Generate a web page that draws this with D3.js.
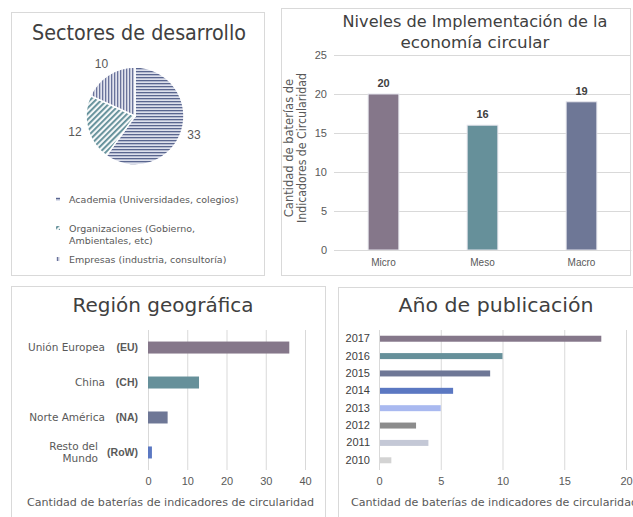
<!DOCTYPE html>
<html>
<head>
<meta charset="utf-8">
<script src="https://cdn.jsdelivr.net/npm/d3@7"></script>
<style>
  body { margin: 0; background: #fff; }
  svg { display: block; }
</style>
</head>
<body>
<div id="chart"></div>
<script>
// data
const sectorNames = ["Academia (Universidades, colegios)", "Organizaciones (Gobierno, Ambientales, etc)", "Empresas (industria, consultoría)"]
const sectorValues = [33, 12, 10]

const levelNames = ["Micro", "Meso", "Macro"]
const levelValues = [20, 16, 19]
const levelTicks = [0, 5, 10, 15, 20, 25]

const regionNames = ["Unión Europea", "China", "Norte América", "Resto del Mundo"]
const regionCodes = ["(EU)", "(CH)", "(NA)", "(RoW)"]
const regionValues = [36, 13, 5, 1]
const regionTicks = [0, 10, 20, 30, 40]

const years = ["2017", "2016", "2015", "2014", "2013", "2012", "2011", "2010"]
const yearValues = [18, 10, 9, 6, 5, 3, 4, 1]
const yearTicks = [0, 5, 10, 15, 20]

const width = 633, height = 517
const titleFont = "'DejaVu Sans', sans-serif"
const axisFont = "'Liberation Sans', Arial, sans-serif"
const grey = "#595959"
const gridColor = "#d9d9d9"
const palette = ["#85778a", "#66909a", "#6e7796"]
const yearColors = ["#85778a", "#66909a", "#6e7796", "#5b78c2", "#a9b9f0", "#8c8c8c", "#c4c8d6", "#d3d3d3"]

const svg = d3.select("#chart").append("svg")
  .attr("width", width)
  .attr("height", height)
  .style("font-family", axisFont)

// patterns for the pie
const defs = svg.append("defs")
const pHor = defs.append("pattern").attr("id", "pHor")
  .attr("patternUnits", "userSpaceOnUse").attr("width", 4).attr("height", 3)
pHor.append("rect").attr("width", 4).attr("height", 3).attr("fill", "#dde0ec")
pHor.append("rect").attr("width", 4).attr("height", 1.3).attr("fill", "#5a668f")

const pDiag = defs.append("pattern").attr("id", "pDiag")
  .attr("patternUnits", "userSpaceOnUse").attr("width", 4).attr("height", 4)
  .attr("patternTransform", "rotate(45)")
pDiag.append("rect").attr("width", 4).attr("height", 4).attr("fill", "#f4f7f8")
pDiag.append("rect").attr("width", 1.8).attr("height", 4).attr("fill", "#5c8b95")

const pVer = defs.append("pattern").attr("id", "pVer")
  .attr("patternUnits", "userSpaceOnUse").attr("width", 3).attr("height", 4)
pVer.append("rect").attr("width", 3).attr("height", 4).attr("fill", "#e2e4ee")
pVer.append("rect").attr("width", 1.3).attr("height", 4).attr("fill", "#6a739b")

const fills = ["url(#pHor)", "url(#pDiag)", "url(#pVer)"]

// panel frames
const panels = [[11, 12, 253, 263], [281, 8, 349, 267], [11, 286, 314, 232], [338, 287, 300, 235]]
svg.append("g").selectAll("rect")
  .data(panels)
  .join("rect")
    .attr("x", d => d[0] + 0.5)
    .attr("y", d => d[1] + 0.5)
    .attr("width", d => d[2])
    .attr("height", d => d[3])
    .attr("fill", "none")
    .attr("stroke", gridColor)

const title = (x, y, txt, size, len) => {
  const t = svg.append("text")
    .attr("x", x).attr("y", y)
    .attr("text-anchor", "middle")
    .style("font-family", titleFont)
    .style("font-size", size + "px")
    .attr("fill", "#404040")
    .text(txt)
  if (len) t.attr("textLength", len).attr("lengthAdjust", "spacingAndGlyphs")
}

// ---------- pie: Sectores de desarrollo ----------
title(139, 40, "Sectores de desarrollo", 21, 214)

const pie = d3.pie().sort(null).value(d => d)
const arc = d3.arc().innerRadius(0).outerRadius(49)
const labelArc = d3.arc().innerRadius(62).outerRadius(62)
const pieG = svg.append("g").attr("transform", "translate(135,116)")

pieG.selectAll("path")
  .data(pie(sectorValues))
  .join("path")
    .attr("d", arc)
    .attr("fill", (d, i) => fills[i])
    .attr("stroke", "#fff")
    .attr("stroke-width", 1.5)

pieG.selectAll("text")
  .data(pie(sectorValues))
  .join("text")
    .attr("transform", d => `translate(${labelArc.centroid(d)})`)
    .attr("text-anchor", "middle")
    .attr("dy", "0.35em")
    .style("font-size", "12px")
    .attr("fill", grey)
    .text(d => d.data)

// legend
const legendRows = [[sectorNames[0]], ["Organizaciones (Gobierno,", "Ambientales, etc)"], [sectorNames[2]]]
const legendY = [203, 232, 263]
const legend = svg.append("g")
legendRows.forEach((lines, i) => {
  legend.append("rect")
    .attr("x", 56).attr("y", legendY[i] - 6)
    .attr("width", 4).attr("height", 4)
    .attr("fill", fills[i])
  const t = legend.append("text")
    .attr("x", 69).attr("y", legendY[i])
    .style("font-family", titleFont)
    .style("font-size", "9.5px")
    .attr("fill", grey)
  lines.forEach((l, j) => {
    t.append("tspan").attr("x", 69).attr("dy", j ? 12 : 0).text(l)
  })
})

// ---------- bars: Niveles de Implementación ----------
title(475, 27, "Niveles de Implementación de la", 16.5, 265)
title(475, 48, "economía circular", 16.5, 149)

const y1 = d3.scaleLinear().domain([0, 25]).range([250, 55])
const x1 = d3.scaleBand().domain(levelNames).range([334, 631]).paddingInner(0.69).paddingOuter(0.345)

const g1 = svg.append("g")
g1.selectAll("line.grid")
  .data(levelTicks)
  .join("line")
    .attr("x1", 334).attr("x2", 630)
    .attr("y1", d => y1(d) + 0.5).attr("y2", d => y1(d) + 0.5)
    .attr("stroke", gridColor)

const yAxis1 = g1.append("g")
  .attr("transform", "translate(334,0)")
  .call(d3.axisLeft(y1).tickValues(levelTicks).tickSize(0).tickPadding(7))
yAxis1.select(".domain").remove()
yAxis1.selectAll("text").style("font-size", "11px").style("font-family", axisFont).attr("fill", grey)

g1.selectAll("rect")
  .data(levelValues)
  .join("rect")
    .attr("x", (d, i) => x1(levelNames[i]))
    .attr("y", d => y1(d))
    .attr("width", x1.bandwidth())
    .attr("height", d => y1(0) - y1(d))
    .attr("fill", (d, i) => palette[i])
    .attr("stroke", "#e4e4ec")
    .attr("stroke-width", 1)

g1.selectAll("text.val")
  .data(levelValues)
  .join("text")
    .attr("class", "val")
    .attr("x", (d, i) => x1(levelNames[i]) + x1.bandwidth() / 2)
    .attr("y", d => y1(d) - 7)
    .attr("text-anchor", "middle")
    .style("font-size", "11px")
    .style("font-weight", "bold")
    .attr("fill", "#404040")
    .text(d => d)

const xAxis1 = g1.append("g")
  .attr("transform", "translate(0,250)")
  .call(d3.axisBottom(x1).tickSize(0).tickPadding(9))
xAxis1.select(".domain").attr("stroke", gridColor)
xAxis1.selectAll("text").style("font-size", "10px").style("font-family", axisFont).attr("fill", grey)

const yTitle = svg.append("text")
  .attr("transform", "translate(293,148) rotate(-90)")
  .attr("text-anchor", "middle")
  .style("font-family", titleFont)
  .style("font-size", "11.5px")
  .attr("fill", grey)
yTitle.append("tspan").attr("x", 0).attr("y", 0).text("Cantidad de baterías de")
yTitle.append("tspan").attr("x", 0).attr("y", 13)
  .attr("textLength", 150).attr("lengthAdjust", "spacingAndGlyphs")
  .text("Indicadores de Circularidad")

// ---------- horizontal bars helper ----------
const hbar = (opts) => {
  const g = svg.append("g")
  g.selectAll("line")
    .data(opts.ticks)
    .join("line")
      .attr("x1", d => opts.x(d) + 0.5).attr("x2", d => opts.x(d) + 0.5)
      .attr("y1", 330).attr("y2", 470)
      .attr("stroke", gridColor)
  g.selectAll("rect")
    .data(opts.values)
    .join("rect")
      .attr("x", opts.x(0))
      .attr("y", (d, i) => opts.y(opts.cats[i]))
      .attr("width", d => opts.x(d) - opts.x(0))
      .attr("height", opts.y.bandwidth())
      .attr("fill", (d, i) => opts.colors[i])
  const ax = g.append("g")
    .attr("transform", "translate(0,470)")
    .call(d3.axisBottom(opts.x).tickValues(opts.ticks).tickSize(0).tickPadding(7))
  ax.select(".domain").remove()
  ax.selectAll("text").style("font-size", "11px").style("font-family", axisFont).attr("fill", grey)
  svg.append("text")
    .attr("x", opts.titleX).attr("y", 506)
    .style("font-family", titleFont)
    .style("font-size", "10.5px")
    .attr("fill", grey)
    .attr("textLength", 287).attr("lengthAdjust", "spacingAndGlyphs")
    .text("Cantidad de baterías de indicadores de circularidad")
  return g
}

// ---------- Región geográfica ----------
title(163, 312, "Región geográfica", 20, 181)

const x2 = d3.scaleLinear().domain([0, 40]).range([148, 305])
const y2 = d3.scaleBand().domain(regionNames).range([330, 470]).paddingInner(0.657).paddingOuter(0.33)
const g2 = hbar({ x: x2, y: y2, cats: regionNames, values: regionValues, ticks: regionTicks, colors: [palette[0], palette[1], palette[2], "#5b78c2"], titleX: 27 })

g2.selectAll("text.name")
  .data(regionNames)
  .join("text")
    .attr("class", "name")
    .attr("x", (d, i) => i === 3 ? 98 : 105)
    .attr("y", d => y2(d) + y2.bandwidth() / 2)
    .attr("text-anchor", "end")
    .style("font-family", titleFont)
    .style("font-size", "10.5px")
    .attr("fill", grey)
    .each(function(d, i) {
      const parts = i === 3 ? ["Resto del", "Mundo"] : [d]
      parts.forEach((p, j) => {
        d3.select(this).append("tspan")
          .attr("x", i === 3 ? 98 : 105)
          .attr("dy", parts.length > 1 ? (j ? "1.15em" : "-0.25em") : "0.35em")
          .text(p)
      })
    })

g2.selectAll("text.code")
  .data(regionCodes)
  .join("text")
    .attr("class", "code")
    .attr("x", 138)
    .attr("y", (d, i) => y2(regionNames[i]) + y2.bandwidth() / 2)
    .attr("dy", "0.35em")
    .attr("text-anchor", "end")
    .style("font-size", "10.5px")
    .style("font-weight", "bold")
    .attr("fill", grey)
    .text(d => d)

// ---------- Año de publicación ----------
title(496, 312, "Año de publicación", 20, 195)

const x3 = d3.scaleLinear().domain([0, 20]).range([379, 626])
const y3 = d3.scaleBand().domain(years).range([330, 469]).paddingInner(0.655).paddingOuter(0.33)
const g3 = hbar({ x: x3, y: y3, cats: years, values: yearValues, ticks: yearTicks, colors: yearColors, titleX: 351 })

const yAxis3 = g3.append("g")
  .attr("transform", "translate(379,0)")
  .call(d3.axisLeft(y3).tickSize(0).tickPadding(9))
yAxis3.select(".domain").attr("stroke", gridColor)
yAxis3.selectAll("text").style("font-size", "11px").style("font-family", axisFont).attr("fill", "#404040")
</script>
</body>
</html>
